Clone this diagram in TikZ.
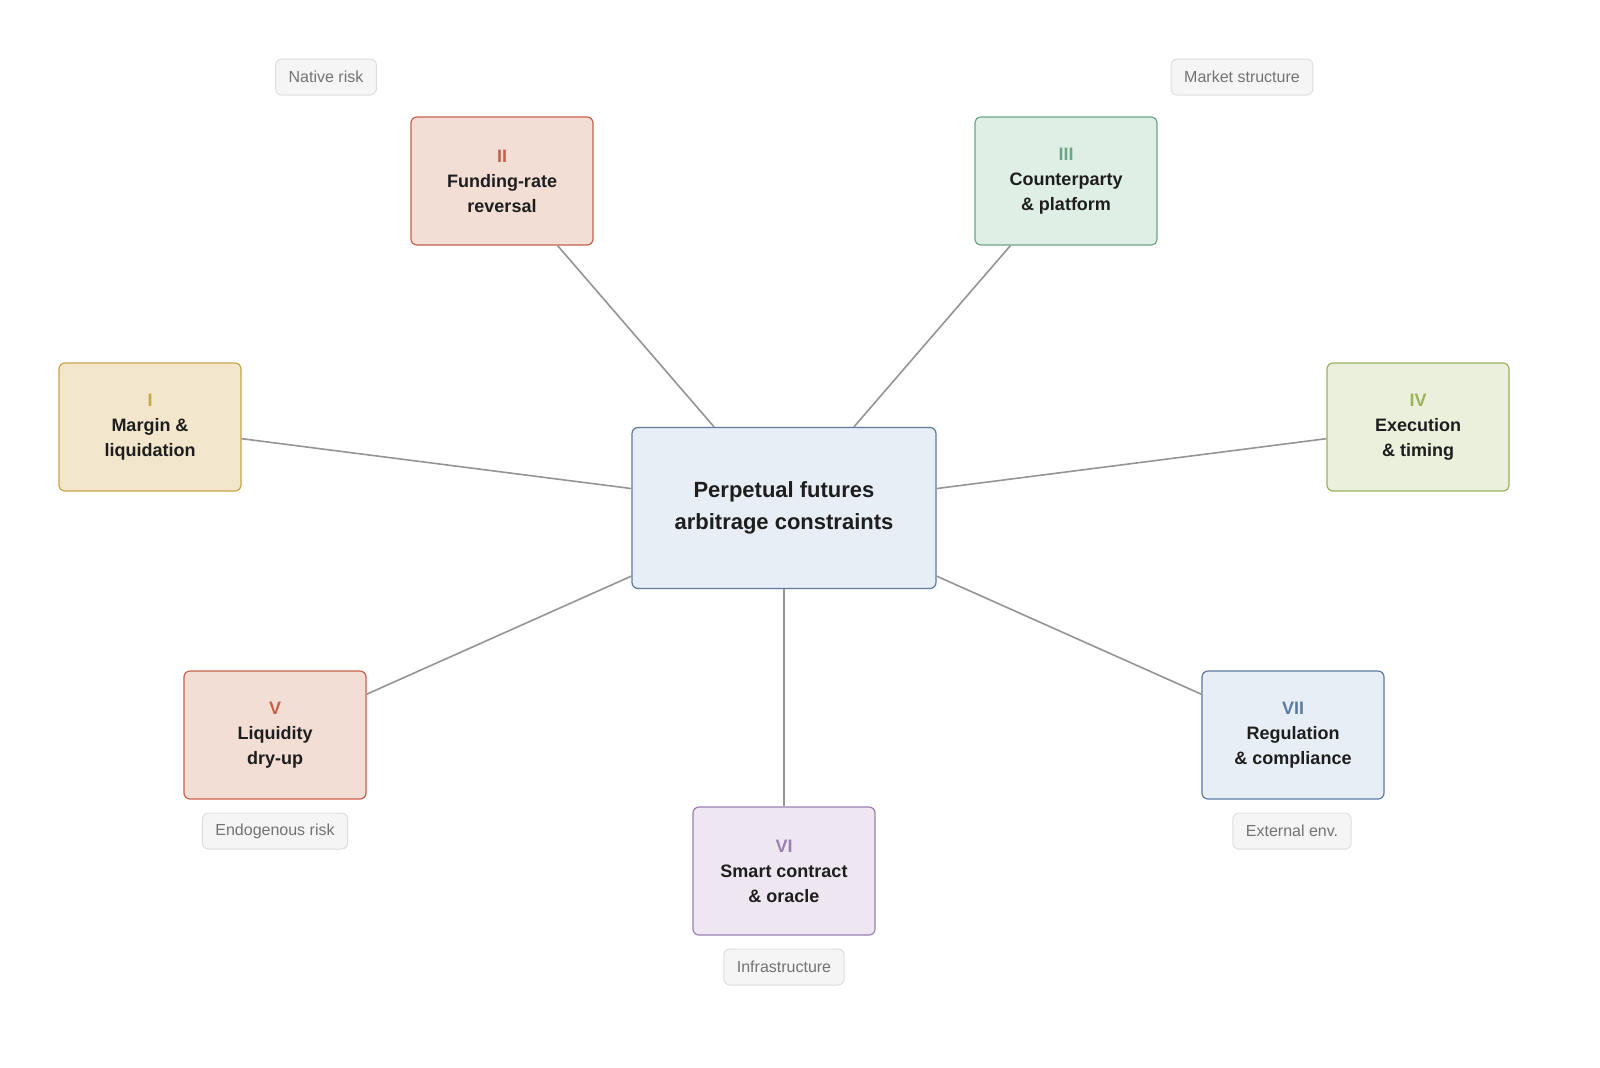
\documentclass[tikz,border=0pt]{standalone}
\usepackage{fontspec}
\setmainfont{Liberation Sans}
\definecolor{cI}{HTML}{C9A445}\definecolor{fI}{HTML}{F2E6CC}
\definecolor{cII}{HTML}{C8614A}\definecolor{fII}{HTML}{F3DED6}
\definecolor{cIII}{HTML}{6AA587}\definecolor{fIII}{HTML}{E0EFE6}
\definecolor{cIV}{HTML}{9AB35A}\definecolor{fIV}{HTML}{EBF0DC}
\definecolor{cVI}{HTML}{9A80B0}\definecolor{fVI}{HTML}{EEE7F2}
\definecolor{cVII}{HTML}{5A7BA0}\definecolor{fVII}{HTML}{E7EEF6}
\definecolor{txt}{HTML}{1E1E1E}
\begin{document}
\begin{tikzpicture}[x=0.5pt,y=-0.5pt,
 box/.style n args={2}{draw=#1,fill=#2,rounded corners=3pt,line width=0.6pt,minimum width=91pt,minimum height=64pt,align=center,font=\fontsize{9}{12.5}\selectfont\bfseries,text=txt},
 tag/.style={draw=black!13,fill=black!4,rounded corners=3pt,line width=0.5pt,minimum height=18pt,inner xsep=6.5pt,font=\fontsize{8}{9}\selectfont,text=black!55},
 link/.style={draw=black!42,line width=0.8pt}]
\useasboundingbox (0,0) rectangle (1600,1067);
\node[box={cVII}{fVII},minimum width=152pt,minimum height=80.5pt,font=\fontsize{11}{16}\selectfont\bfseries] (c) at (784,508) {Perpetual futures\\arbitrage constraints};
\node[box={cI}{fI}] (n1) at (150,427) {\textcolor{cI}{I}\\Margin \&\\liquidation};
\node[box={cII}{fII}] (n2) at (502,181) {\textcolor{cII}{II}\\Funding-rate\\reversal};
\node[box={cIII}{fIII}] (n3) at (1066,181) {\textcolor{cIII}{III}\\Counterparty\\\& platform};
\node[box={cIV}{fIV}] (n4) at (1418,427) {\textcolor{cIV}{IV}\\Execution\\\& timing};
\node[box={cII}{fII}] (n5) at (275,735) {\textcolor{cII}{V}\\Liquidity\\dry-up};
\node[box={cVI}{fVI}] (n6) at (784,871) {\textcolor{cVI}{VI}\\Smart contract\\\& oracle};
\node[box={cVII}{fVII}] (n7) at (1293,735) {\textcolor{cVII}{VII}\\Regulation\\\& compliance};
\node[tag] (t1) at (326,77) {Native risk};
\node[tag] (t2) at (1242,77) {Market structure};
\node[tag] (t3) at (275,831) {Endogenous risk};
\node[tag] (t4) at (1292,831) {External env.};
\node[tag] (t5) at (784,967) {Infrastructure};
\foreach \n in {n1,n2,n3,n4,n5,n6,n7}{\draw[link] (c) -- (\n);}
\end{tikzpicture}
\end{document}
